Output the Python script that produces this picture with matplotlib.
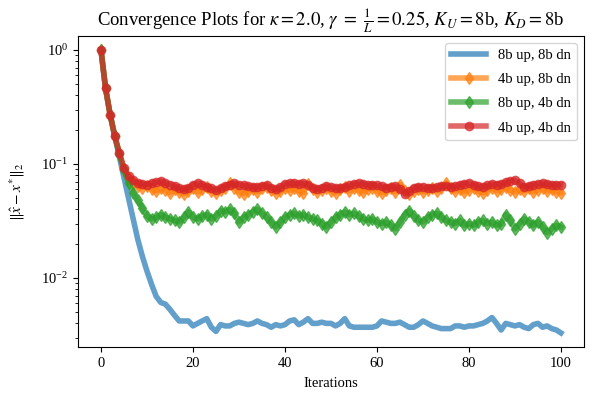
import numpy as np
import matplotlib
matplotlib.use("Agg")
import matplotlib.pyplot as plt

plt.rcParams['font.family'] = ['Liberation Serif', 'DejaVu Serif']
plt.rcParams['mathtext.fontset'] = 'stix'

iterations = list(range(101))

# ||x_hat - x*||_2 per iteration
err_8up_8dn = [1.0, 0.46, 0.27, 0.175, 0.115, 0.076, 0.050, 0.033, 0.0218, 0.0155,
               0.0115, 0.0088, 0.0069, 0.0061, 0.0059, 0.0053, 0.0047, 0.0042, 0.0042, 0.0042,
               0.0038, 0.0040, 0.0042, 0.0044, 0.0037, 0.0034, 0.0039, 0.0038, 0.0038, 0.0040,
               0.0041, 0.0040, 0.0039, 0.0040, 0.0042, 0.0040, 0.0039, 0.0037, 0.0039, 0.0038,
               0.0039, 0.0042, 0.0043, 0.0039, 0.0041, 0.0044, 0.0040, 0.0040, 0.0041, 0.0040,
               0.0040, 0.0038, 0.0040, 0.0044, 0.0038, 0.0037, 0.0037, 0.0037, 0.0037, 0.0037,
               0.0038, 0.0042, 0.0041, 0.0040, 0.0040, 0.0041, 0.0039, 0.0037, 0.0037, 0.0039,
               0.0042, 0.0040, 0.0038, 0.0037, 0.0036, 0.0036, 0.0036, 0.0038, 0.0038, 0.0037,
               0.0038, 0.0038, 0.0039, 0.0040, 0.0042, 0.0045, 0.0040, 0.0035, 0.0040, 0.0039,
               0.0038, 0.0039, 0.0037, 0.0036, 0.0039, 0.0040, 0.0037, 0.0038, 0.0036, 0.0035,
               0.0033]

err_4up_8dn = [1.0, 0.46, 0.27, 0.175, 0.125, 0.090, 0.075, 0.068, 0.064, 0.062,
               0.064, 0.060, 0.058, 0.062, 0.059, 0.056, 0.060, 0.057, 0.055, 0.058,
               0.061, 0.057, 0.060, 0.063, 0.058, 0.056, 0.059, 0.062, 0.068, 0.062,
               0.057, 0.055, 0.058, 0.060, 0.057, 0.061, 0.063, 0.059, 0.056, 0.058,
               0.061, 0.059, 0.062, 0.058, 0.056, 0.067, 0.060, 0.057, 0.059, 0.062,
               0.058, 0.056, 0.060, 0.063, 0.058, 0.061, 0.059, 0.057, 0.060, 0.062,
               0.058, 0.056, 0.059, 0.061, 0.057, 0.066, 0.058, 0.055, 0.058, 0.060,
               0.057, 0.059, 0.061, 0.058, 0.062, 0.068, 0.061, 0.058, 0.060, 0.057,
               0.059, 0.062, 0.058, 0.056, 0.059, 0.061, 0.058, 0.060, 0.063, 0.059,
               0.057, 0.060, 0.058, 0.061, 0.057, 0.059, 0.062, 0.058, 0.060, 0.057,
               0.056]

err_8up_4dn = [1.0, 0.46, 0.27, 0.175, 0.122, 0.088, 0.068, 0.056, 0.048, 0.041,
               0.035, 0.033, 0.034, 0.036, 0.034, 0.033, 0.032, 0.031, 0.034, 0.038,
               0.034, 0.033, 0.035, 0.036, 0.033, 0.035, 0.039, 0.038, 0.040, 0.037,
               0.031, 0.034, 0.036, 0.038, 0.040, 0.037, 0.034, 0.031, 0.028, 0.031,
               0.034, 0.036, 0.037, 0.035, 0.036, 0.034, 0.033, 0.032, 0.030, 0.028,
               0.031, 0.034, 0.036, 0.038, 0.036, 0.037, 0.035, 0.033, 0.032, 0.033,
               0.031, 0.030, 0.031, 0.029, 0.027, 0.031, 0.036, 0.039, 0.035, 0.032,
               0.031, 0.034, 0.036, 0.037, 0.034, 0.032, 0.031, 0.030, 0.032, 0.029,
               0.030, 0.029, 0.031, 0.032, 0.030, 0.031, 0.029, 0.030, 0.036, 0.032,
               0.027, 0.030, 0.033, 0.031, 0.029, 0.031, 0.028, 0.025, 0.027, 0.029,
               0.028]

err_4up_4dn = [1.0, 0.46, 0.27, 0.175, 0.125, 0.092, 0.078, 0.072, 0.068, 0.067,
               0.066, 0.068, 0.069, 0.071, 0.068, 0.066, 0.064, 0.061, 0.060, 0.062,
               0.066, 0.068, 0.066, 0.063, 0.061, 0.059, 0.061, 0.064, 0.066, 0.068,
               0.066, 0.065, 0.064, 0.063, 0.063, 0.064, 0.065, 0.062, 0.060, 0.063,
               0.067, 0.068, 0.068, 0.067, 0.068, 0.066, 0.062, 0.060, 0.062, 0.064,
               0.063, 0.062, 0.061, 0.063, 0.065, 0.067, 0.068, 0.067, 0.066, 0.066,
               0.065, 0.064, 0.062, 0.063, 0.064, 0.060, 0.055, 0.058, 0.062, 0.063,
               0.063, 0.062, 0.062, 0.063, 0.064, 0.064, 0.063, 0.064, 0.066, 0.067,
               0.068, 0.066, 0.064, 0.063, 0.065, 0.067, 0.066, 0.067, 0.069, 0.071,
               0.072, 0.068, 0.063, 0.064, 0.066, 0.067, 0.068, 0.067, 0.066, 0.066,
               0.066]

fig = plt.figure(figsize=(6.14, 3.98), dpi=100)
ax = fig.add_axes([0.127, 0.128, 0.824, 0.782])

a = 0.7
ax.plot(iterations, err_8up_8dn, lw=4, alpha=a, color='tab:blue', label='8b up, 8b dn')
ax.plot(iterations, err_4up_8dn, lw=4, alpha=a, color='tab:orange', marker='d', ms=6,
        label='4b up, 8b dn')
ax.plot(iterations, err_8up_4dn, lw=4, alpha=a, color='tab:green', marker='d', ms=6,
        label='8b up, 4b dn')
ax.plot(iterations, err_4up_4dn, lw=4, alpha=a, color='tab:red', marker='o', ms=6,
        label='4b up, 4b dn')

ax.set_yscale('log')
ax.set_xlabel('Iterations', fontsize=10.5, labelpad=5)
ax.set_ylabel(r'$\|\hat{x} - x^{*}\|_2$', fontsize=11, labelpad=10)
ax.set_title(r'Convergence Plots for $\kappa = 2.0$, $\gamma\ =\ \frac{1}{L} = 0.25$, '
             r'$K_U = 8$b, $K_D = 8$b', fontsize=13.5, pad=7)
ax.tick_params(labelsize=10.5)
ax.legend(loc='upper right', fontsize=10.5, labelspacing=0.75, handlelength=2.4)

plt.savefig('out.png', dpi=100)
